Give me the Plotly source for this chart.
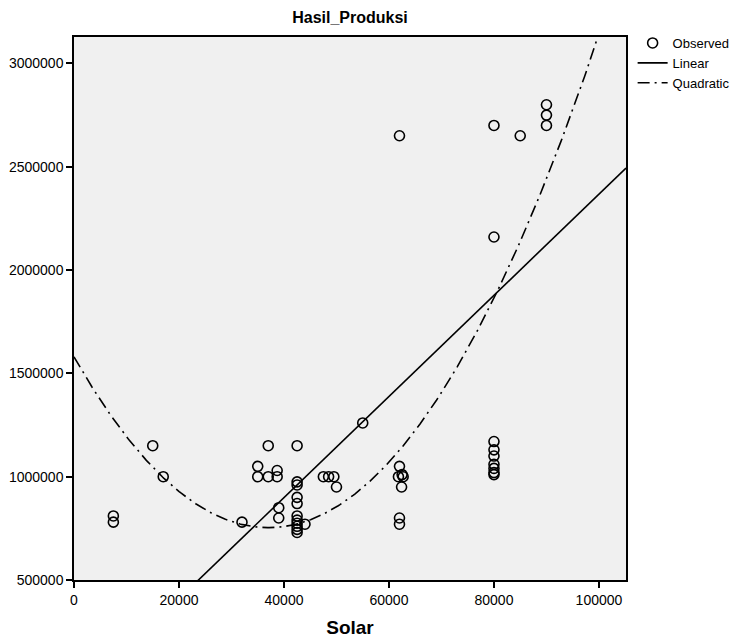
import numpy as np
import plotly.graph_objects as go

solar = [7500, 7500, 15000, 17000, 32000,
         35000, 35000, 37000, 37000, 38700, 38700, 39000, 39000,
         42500, 42500, 42500, 42500, 42500, 42500, 42500, 42500, 42500, 42500, 42500,
         44000, 47500, 48500, 49500, 50000, 55000,
         62000, 61800, 62700, 62500, 62400, 62000, 62000, 62000,
         80000, 80000, 80000, 80000, 80000, 80000, 80000, 80000, 80000,
         85000, 90000, 90000, 90000]
produksi = [810000, 780000, 1150000, 1000000, 780000,
            1050000, 1000000, 1150000, 1000000, 1030000, 1000000, 850000, 800000,
            1150000, 975000, 960000, 900000, 870000, 810000, 790000, 775000, 760000, 745000, 730000,
            770000, 1000000, 1000000, 1000000, 950000, 1260000,
            1050000, 1000000, 1000000, 1010000, 950000, 800000, 770000, 2650000,
            1170000, 1130000, 1100000, 1060000, 1040000, 1020000, 1010000, 2160000, 2700000,
            2650000, 2800000, 2750000, 2700000]

# Fitted model coefficients
linear_coef = [-80440, 24.48]            # b0, b1
quad_coef = [1580000, -44.63, 6.023e-4]  # b0, b1, b2

x_ticks = [0, 20000, 40000, 60000, 80000, 100000]
y_ticks = [500000, 1000000, 1500000, 2000000, 2500000, 3000000]

x_range = [0, 105150]
y_range = [500000, 3128000]

xs = np.linspace(x_range[0], x_range[1], 400)
lin_y = linear_coef[0] + linear_coef[1] * xs
quad_y = quad_coef[0] + quad_coef[1] * xs + quad_coef[2] * xs ** 2

FONT = "Liberation Sans, Arial, sans-serif"

fig = go.Figure()
fig.add_trace(go.Scatter(
    x=solar, y=produksi, mode="markers", name="Observed",
    marker=dict(symbol="circle-open", size=10, color="black", line=dict(width=1.6, color="black")),
))
fig.add_trace(go.Scatter(
    x=xs, y=lin_y, mode="lines", name="Linear",
    line=dict(color="black", width=1.6),
))
fig.add_trace(go.Scatter(
    x=xs, y=quad_y, mode="lines", name="Quadratic",
    line=dict(color="black", width=1.6, dash="12px,5px,2px,5px"),
))

axis_common = dict(
    showline=True, linecolor="black", linewidth=1.5, mirror=True,
    ticks="outside", ticklen=6, tickwidth=1.5, tickcolor="black",
    showgrid=False, zeroline=False, automargin=False,
    tickfont=dict(family=FONT, size=14, color="black"),
)

fig.update_layout(
    width=737, height=640,
    margin=dict(l=74, r=111, t=37, b=60, autoexpand=False),
    paper_bgcolor="white", plot_bgcolor="#f0f0f0",
    title=dict(text="<b>Hasil_Produksi</b>", x=(74 + 626) / 2 / 737, xanchor="center",
               y=1 - 17 / 640, yanchor="middle",
               font=dict(family=FONT, size=16, color="black")),
    legend=dict(x=1.012, y=1.0 + 9 / 543, xanchor="left", yanchor="top",
                font=dict(family=FONT, size=13, color="black"),
                itemwidth=30, tracegroupgap=0, bgcolor="rgba(0,0,0,0)"),
    showlegend=True,
)
fig.update_xaxes(range=x_range, tickvals=x_ticks, ticktext=[str(v) for v in x_ticks],
                 title=dict(text="<b>Solar</b>", font=dict(family=FONT, size=19, color="black"), standoff=14),
                 **axis_common)
fig.update_yaxes(range=y_range, tickvals=y_ticks, ticktext=[str(v) for v in y_ticks],
                 **axis_common)

fig.write_html("out.html",
               config={"displayModeBar": False},
               post_script="document.body.style.margin='0';document.body.style.overflow='hidden';")
